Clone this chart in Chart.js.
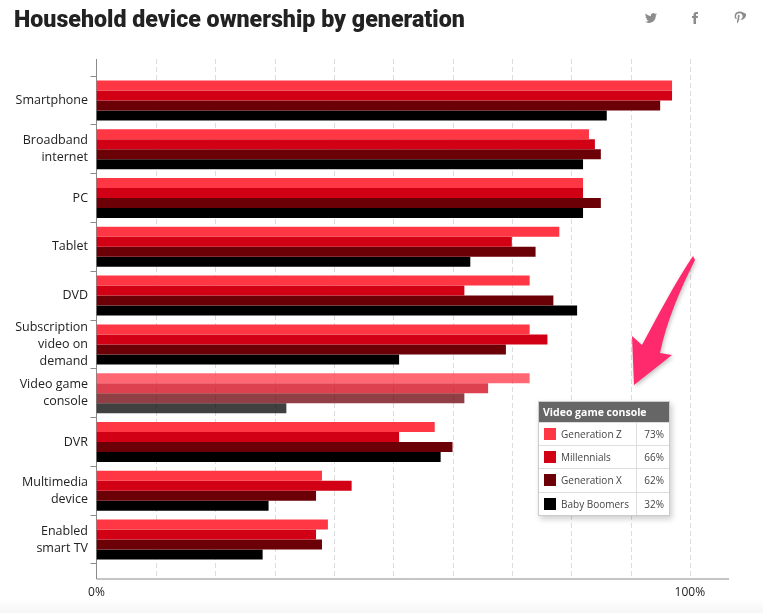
<!DOCTYPE html>
<html>
<head>
<meta charset="utf-8">
<script src="https://cdn.jsdelivr.net/npm/chart.js@4"></script>
<style>
    html, body { margin: 0; padding: 0; background: #fff; overflow: hidden; }
    #wrap { position: relative; width: 763px; height: 613px; overflow: hidden; font-family: "Open Sans", sans-serif; }
    #myChart { position: absolute; left: 0; top: 0; }
    #title { position: absolute; left: 14px; top: 5px; font: 900 23.2px Roboto, sans-serif; color: #222; white-space: nowrap; }
    #fade { position: absolute; left: 0; right: 0; bottom: 0; height: 14px; background: linear-gradient(#fff, #f6f6f6); }
    .icon { position: absolute; fill: #8c8c8c; }
    #arrow { position: absolute; left: 620px; top: 245px; filter: drop-shadow(1px 2px 2px rgba(0,0,0,.25)); }
    #tip { position: absolute; left: 538px; top: 401px; width: 132px; background: #fff; border: 1px solid #ccc; box-sizing: border-box;
           box-shadow: 2px 3px 6px rgba(0,0,0,.2); font-size: 10px; color: #444; }
    #tipHead { background: #666; color: #fff; font-weight: 700; font-size: 10.5px; height: 20px; line-height: 20px; padding-left: 4px; }
    .tipRow { display: flex; height: 23.2px; line-height: 23px; border-top: 1px solid #ddd; box-sizing: border-box; }
    .tipName { width: 97px; border-right: 1px solid #ddd; white-space: nowrap; }
    .swatch { display: inline-block; width: 12px; height: 12px; margin: 0 5px 0 5px; vertical-align: -2px; }
    .tipVal { flex: 1; text-align: right; padding-right: 5px; }
</style>
</head>
<body>
<div id="wrap">
    <canvas id="myChart" width="763" height="613"></canvas>
    <div id="title">Household device ownership by generation</div>
    <svg class="icon" style="left:645px;top:12px" width="12" height="12" viewBox="0 0 24 24"><path d="M23.95 4.57a10 10 0 0 1-2.82.77 4.96 4.96 0 0 0 2.16-2.72c-.95.55-2 .96-3.12 1.18a4.92 4.92 0 0 0-8.38 4.48C7.69 8.1 4.07 6.13 1.64 3.16a4.9 4.9 0 0 0 1.52 6.57 4.9 4.9 0 0 1-2.23-.62v.06a4.92 4.92 0 0 0 3.95 4.83 5 5 0 0 1-2.21.08 4.94 4.94 0 0 0 4.6 3.42A9.87 9.87 0 0 1 0 19.54a13.94 13.94 0 0 0 7.55 2.21c9.05 0 14-7.5 14-13.98 0-.21 0-.42-.02-.63a9.94 9.94 0 0 0 2.46-2.55z"/></svg>
    <svg class="icon" style="left:689px;top:11px" width="12" height="14" viewBox="0 0 24 24"><path d="M14 8V5.5c0-1 .5-1.5 1.6-1.5H18V0h-3.6C11 0 9 2 9 5.2V8H6v4h3v12h5V12h3.4l.6-4z"/></svg>
    <svg class="icon" style="left:733px;top:11px" width="13" height="14" viewBox="0 0 24 24"><path d="M12.4 0C6.2 0 3 4.1 3 8.6c0 2.1 1.1 4.7 2.9 5.5.5.2.5 0 .9-1.6 0-.2 0-.3-.2-.5-2.400-2.900-.4-8.800 5.300-8.800 8.200 0 6.700 11.300 1.400 11.300-1.300 0-2.300-1.100-2-2.400.4-1.500 1.100-3.100 1.100-4.200 0-2.700-3.800-2.300-3.800 1.300 0 1.100.4 1.800.4 1.800l-1.500 6.500c-.4 1.700.1 4.500.1 4.700 0 .1.200.2.300.1.100-.2 2.200-3.100 2.800-5.300l1-3.900c.6 1 2.200 1.900 3.900 1.900 5.100 0 8.800-4.700 8.800-10.500C21.700 3.700 17.200 0 12.400 0z"/></svg>
    <svg id="arrow" width="80" height="145"><path fill="#ff2a6d" d="M73 11 L75 15 C60 45 47 75 40 108 L52 110 L14 140 L12 91 L22 100 C38 70 55 38 73 11 Z"/></svg>
    <div id="tip"></div>
    <div id="fade"></div>
</div>
<script>
const categories = [
    "Smartphone", ["Broadband", "internet"], "PC", "Tablet", "DVD",
    ["Subscription", "video on", "demand"], ["Video game", "console"], "DVR",
    ["Multimedia", "device"], ["Enabled", "smart TV"]
];
const seriesNames = ["Generation Z", "Millennials", "Generation X", "Baby Boomers"];
const generationZ = [97, 83, 82, 78, 73, 73, 73, 57, 38, 39];
const millennials = [97, 84, 82, 70, 62, 76, 66, 51, 43, 37];
const generationX = [95, 85, 85, 74, 77, 69, 62, 60, 37, 38];
const babyBoomers = [86, 82, 82, 63, 81, 51, 32, 58, 29, 28];
const seriesColors = ["255,54,68", "209,0,20", "107,0,6", "0,0,0"];
const highlighted = 6;
const tickValues = [0, 10, 20, 30, 40, 50, 60, 70, 80, 90, 100];
const tickFont = { family: "'Open Sans', sans-serif", size: 12.5, lineHeight: 1.36 };

// lines stick out past the chart area, so draw them from the scales
const axisLines = {
    id: "axisLines",
    beforeDatasetsDraw(chart) {
        const c = chart.ctx, x = chart.scales.x;
        const top = 59, bottom = 579;
        c.save();
        c.lineWidth = 1;
        c.strokeStyle = "#dcdcdc";
        c.setLineDash([5, 3]);
        tickValues.slice(1).forEach(v => {
            const px = Math.round(x.getPixelForValue(v)) + 0.5;
            c.beginPath(); c.moveTo(px, top); c.lineTo(px, bottom); c.stroke();
        });
        c.setLineDash([]);
        c.strokeStyle = "#8a8a8a";
        c.beginPath();
        c.moveTo(x.left, top); c.lineTo(x.left, bottom); c.lineTo(x.right, bottom);
        c.stroke();
        c.restore();
    }
};

const rows = [generationZ, millennials, generationX, babyBoomers];

new Chart(document.getElementById("myChart").getContext("2d"), {
    type: "bar",
    plugins: [axisLines],
    data: {
        labels: categories,
        datasets: seriesNames.map((name, i) => ({
            label: name,
            data: rows[i],
            backgroundColor: ctx => "rgba(" + seriesColors[i] + "," + (ctx.dataIndex === highlighted ? 0.75 : 1) + ")",
            categoryPercentage: 0.82,
            barPercentage: 1
        }))
    },
    options: {
        indexAxis: "y",
        responsive: false,
        animation: false,
        layout: { padding: { top: 76, right: 34, bottom: 0, left: 0 } },
        plugins: { legend: { display: false }, tooltip: { enabled: false } },
        scales: {
            x: {
                min: 0,
                max: 106.6,
                afterBuildTicks: axis => { axis.ticks = tickValues.map(v => ({ value: v })); },
                afterFit: axis => { axis.height = 49; },
                grid: { display: false },
                border: { display: false },
                ticks: {
                    autoSkip: false,
                    maxRotation: 0,
                    padding: 13,
                    color: "#222",
                    font: { family: tickFont.family, size: 12 },
                    callback: v => (v === 0 || v === 100) ? v + "%" : ""
                }
            },
            y: {
                afterFit: axis => { axis.width = 96.5; },
                border: { display: false },
                grid: {
                    drawOnChartArea: false,
                    tickLength: 6,
                    color: ctx => ctx.index === categories.length ? "transparent" : "#8a8a8a"
                },
                ticks: { padding: 2.5, color: "#222", font: tickFont, autoSkip: false }
            }
        }
    }
});

// the hover box for the highlighted row
let tipHtml = '<div id="tipHead">Video game console</div>';
seriesNames.forEach((name, i) => {
    tipHtml += '<div class="tipRow"><div class="tipName"><span class="swatch" style="background:rgb(' + seriesColors[i] + ')"></span>' + name +
        '</div><div class="tipVal">' + rows[i][highlighted] + '%</div></div>';
});
document.getElementById("tip").innerHTML = tipHtml;
</script>
</body>
</html>
